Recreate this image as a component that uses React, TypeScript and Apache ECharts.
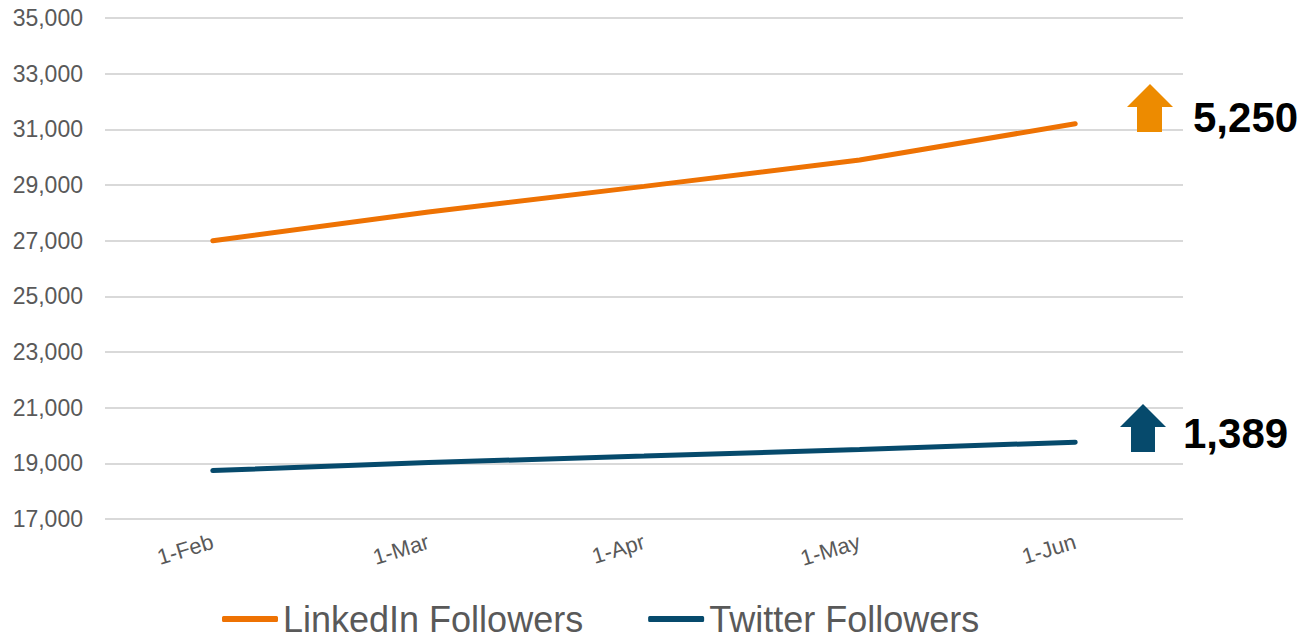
import React, { useEffect, useRef } from "react";
import * as echarts from "echarts";

const categories = ["1-Feb", "1-Mar", "1-Apr", "1-May", "1-Jun"];
const linkedinFollowers = [27000, 28030, 28950, 29900, 31200];
const twitterFollowers = [18740, 19030, 19260, 19500, 19760];
const linkedinGrowth = "5,250";
const twitterGrowth = "1,389";
const yMin = 17000;
const yMax = 35000;
const yInterval = 2000;

const ORANGE = "#EE7203";
const ORANGE_ARROW = "#ED8B00";
const BLUE = "#064A6C";
const FONT = "'Liberation Sans', Arial, sans-serif";

export default function App() {
  const ref = useRef<HTMLDivElement>(null);
  useEffect(() => {
    document.body.style.margin = "0";
    if (!ref.current) return;
    const chart = echarts.init(ref.current, null, { renderer: "svg" });
    chart.setOption({
      animation: false,
      backgroundColor: "#ffffff",
      grid: { left: 105, right: 126, top: 18, bottom: 119 },
      xAxis: {
        type: "category",
        data: categories,
        boundaryGap: true,
        axisLine: { show: false },
        axisTick: { show: false },
        axisLabel: {
          rotate: 17,
          margin: 22,
          fontSize: 22,
          color: "#595959",
          fontFamily: FONT,
        },
      },
      yAxis: {
        type: "value",
        min: yMin,
        max: yMax,
        interval: yInterval,
        axisLine: { show: false },
        axisTick: { show: false },
        splitLine: { lineStyle: { color: "#D9D9D9", width: 2 } },
        axisLabel: {
          margin: 22,
          fontSize: 23,
          color: "#595959",
          fontFamily: FONT,
          formatter: (v: number) => v.toLocaleString("en-US"),
        },
      },
      legend: {
        left: 222,
        top: 601,
        padding: 0,
        itemWidth: 56,
        itemHeight: 6,
        itemGap: 65,
        icon: "roundRect",
        textStyle: { fontSize: 36, lineHeight: 36, color: "#595959", fontFamily: FONT },
        data: ["LinkedIn Followers", "Twitter Followers"],
      },
      series: [
        {
          name: "LinkedIn Followers",
          type: "line",
          data: linkedinFollowers,
          showSymbol: false,
          symbol: "none",
          color: ORANGE,
          lineStyle: { color: ORANGE, width: 5, cap: "round" },
        },
        {
          name: "Twitter Followers",
          type: "line",
          data: twitterFollowers,
          showSymbol: false,
          symbol: "none",
          color: BLUE,
          lineStyle: { color: BLUE, width: 5, cap: "round" },
        },
      ],
      graphic: [
        {
          type: "polygon",
          z: 100,
          shape: {
            points: [
              [1150, 84],
              [1173, 107],
              [1162, 107],
              [1162, 132],
              [1137, 132],
              [1137, 107],
              [1127, 107],
            ],
          },
          style: { fill: ORANGE_ARROW },
        },
        {
          type: "text",
          z: 100,
          x: 1193,
          y: 138,
          style: {
            text: linkedinGrowth,
            fontSize: 42,
            fontWeight: "bold",
            fontFamily: FONT,
            fill: "#000000",
            verticalAlign: "bottom",
          },
        },
        {
          type: "polygon",
          z: 100,
          shape: {
            points: [
              [1143, 404],
              [1166, 427],
              [1155, 427],
              [1155, 452],
              [1131, 452],
              [1131, 427],
              [1120, 427],
            ],
          },
          style: { fill: BLUE },
        },
        {
          type: "text",
          z: 100,
          x: 1183,
          y: 454,
          style: {
            text: twitterGrowth,
            fontSize: 42,
            fontWeight: "bold",
            fontFamily: FONT,
            fill: "#000000",
            verticalAlign: "bottom",
          },
        },
      ],
    });
    return () => chart.dispose();
  }, []);
  return <div ref={ref} style={{ width: 1309, height: 638 }} />;
}
